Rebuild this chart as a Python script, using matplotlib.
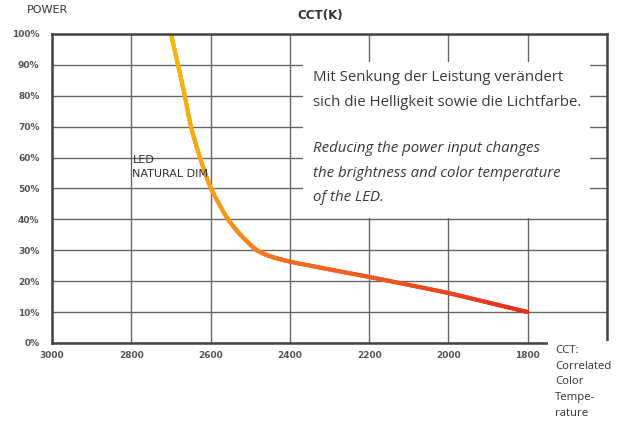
import matplotlib
matplotlib.use("Agg")
import matplotlib.pyplot as plt
import numpy as np
from matplotlib.collections import LineCollection
from matplotlib.colors import LinearSegmentedColormap
from matplotlib.patches import Rectangle

# dimming curve: colour temperature (K) vs. power (%)
cct = [2700, 2682, 2665, 2650, 2627, 2600, 2557, 2525, 2485, 2450, 2400, 2300, 2200, 2100, 2000, 1900, 1800]
power = [100, 90, 80, 70, 60, 50, 40, 35, 30, 28, 26.3, 23.8, 21.4, 18.8, 16.2, 13.1, 10]

x_ticks = [3000, 2800, 2600, 2400, 2200, 2000, 1800]
y_ticks = [0, 10, 20, 30, 40, 50, 60, 70, 80, 90, 100]

fig = plt.figure(figsize=(6.24, 4.23), dpi=100)
ax = fig.add_axes([52 / 624, 1 - 343 / 423, 555 / 624, 309 / 423])

ax.set_xlim(3000, 1600)
ax.set_ylim(0, 100)
ax.set_xticks(x_ticks)
ax.set_yticks(y_ticks)
ax.set_xticklabels([str(t) for t in x_ticks])
ax.set_yticklabels([f"{t}%" for t in y_ticks])
ax.tick_params(length=0, labelsize=6.5, labelcolor="#555555")
ax.tick_params(axis="y", pad=9)
ax.tick_params(axis="x", pad=6)
for lab in ax.get_xticklabels() + ax.get_yticklabels():
    lab.set_fontweight("bold")
ax.grid(True, color="#666666", lw=1)
ax.set_axisbelow(True)
for s in ax.spines.values():
    s.set_color("#444444")
    s.set_linewidth(1.8)

# smooth the curve and colour it from amber to red
t = np.linspace(0, 1, len(cct))
ts = np.linspace(0, 1, 400)
xs = np.interp(ts, t, cct)
ys = np.interp(ts, t, power)
k = np.ones(15) / 15
xs = np.concatenate([xs[:7], np.convolve(xs, k, mode="same")[7:-7], xs[-7:]])
ys = np.concatenate([ys[:7], np.convolve(ys, k, mode="same")[7:-7], ys[-7:]])
pts = np.array([xs, ys]).T.reshape(-1, 1, 2)
segs = np.concatenate([pts[:-1], pts[1:]], axis=1)
cmap = LinearSegmentedColormap.from_list("dim", ["#f6b80a", "#f7a810", "#f58220", "#ee5a24", "#e8301e"])
lc = LineCollection(segs, cmap=cmap, lw=3.0, capstyle="round")
lc.set_array(np.linspace(0, 1, len(segs)))
ax.add_collection(lc)

ax.text(2797, 57, "LED\nNATURAL DIM", fontsize=8, color="#333333", va="center", linespacing=1.45)

fig.text(27 / 624, 1 - 10 / 423, "POWER", fontsize=8, color="#333333", va="center")
fig.text(320 / 624, 1 - 15 / 423, "CCT(K)", fontsize=8.6, fontweight="bold", color="#333333", ha="center", va="center")


def white_patch(x0, y0, x1, y1):
    # white block in pixel coordinates, drawn over the axes frame
    r = Rectangle((x0 / 624, 1 - y1 / 423), (x1 - x0) / 624, (y1 - y0) / 423,
                  transform=fig.transFigure, facecolor="white", edgecolor="none")
    ax.add_artist(r)
    r.set_clip_on(False)
    r.set_zorder(5)


white_patch(303, 62, 590, 218)
ax.text(313 / 624, 1 - 90 / 423, "Mit Senkung der Leistung verändert\nsich die Helligkeit sowie die Lichtfarbe.",
        transform=fig.transFigure, fontsize=10.8, color="#3a3a3a", va="center", linespacing=1.82,
        family="Open Sans", zorder=6)
ax.text(313 / 624, 1 - 173 / 423,
        "Reducing the power input changes\nthe brightness and color temperature\nof the LED.",
        transform=fig.transFigure, fontsize=10.8, color="#3a3a3a", va="center", style="italic",
        linespacing=1.82, family="Open Sans", zorder=6)

white_patch(548, 341, 624, 423)
ax.text(555 / 624, 1 - 345 / 423, "CCT:\nCorrelated\nColor\nTempe-\nrature", fontsize=8.2,
        transform=fig.transFigure, color="#333333", va="top", linespacing=1.58,
        family="Open Sans", zorder=6)

fig.savefig("out.png", dpi=100, facecolor="white")
